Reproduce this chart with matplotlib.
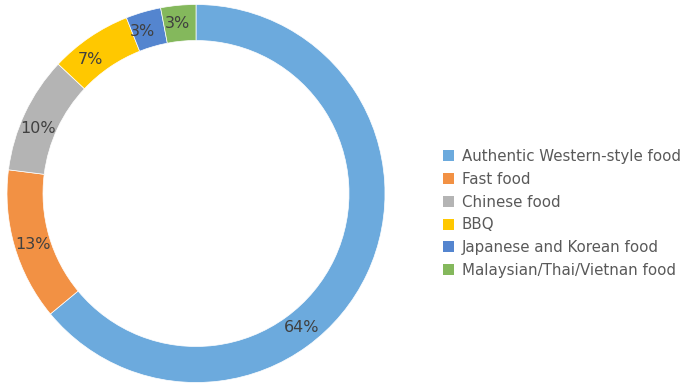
import numpy as np
import matplotlib
matplotlib.use("Agg")
import matplotlib.pyplot as plt
from matplotlib.patches import Patch

categories = [
    "Authentic Western-style food",
    "Fast food",
    "Chinese food",
    "BBQ",
    "Japanese and Korean food",
    "Malaysian/Thai/Vietnan food",
]
shares = [64, 13, 10, 7, 3, 3]
colors = ["#6CAADD", "#F29144", "#B4B4B4", "#FFC800", "#5485CF", "#84B85C"]
# extra rotation (degrees, clockwise) applied to each percentage label
label_shift = [26.5, -1, -3, -4, -2, -0.7]

plt.rcParams["font.family"] = ["DejaVu Sans"]

W, H, DPI = 682, 383, 100
fig = plt.figure(figsize=(W / DPI, H / DPI), dpi=DPI)

cx, cy, R = 196, 193.5, 189
ax = fig.add_axes([(cx - R) / W, (H - cy - R) / H, 2 * R / W, 2 * R / H])

ring = 36 / R
wedges, _ = ax.pie(
    shares,
    colors=colors,
    startangle=90,
    counterclock=False,
    radius=1,
    wedgeprops=dict(width=ring, edgecolor="white", linewidth=0.5),
)
ax.set_xlim(-1, 1)
ax.set_ylim(-1, 1)
ax.axis("off")

# percentage labels in the middle of the ring
total = float(sum(shares))
start = 0.0
mid_r = 1 - ring / 2
for val, shift in zip(shares, label_shift):
    frac = val / total * 360
    ang = start + frac / 2 + shift  # clockwise from top
    t = np.deg2rad(ang)
    ax.text(mid_r * np.sin(t), mid_r * np.cos(t), f"{val}%",
            ha="center", va="center", fontsize=11.5, color="#404040")
    start += frac

handles = [Patch(facecolor=c, edgecolor="none") for c in colors]
fig.legend(
    handles, categories,
    loc="center left",
    bbox_to_anchor=(443 / W, 1 - 213.5 / H),
    frameon=False,
    fontsize=10.8,
    handlelength=0.75,
    handleheight=0.75,
    handletextpad=0.5,
    labelspacing=0.52,
    borderpad=0,
    borderaxespad=0,
    labelcolor="#595959",
)

fig.savefig("out.png", dpi=DPI)
